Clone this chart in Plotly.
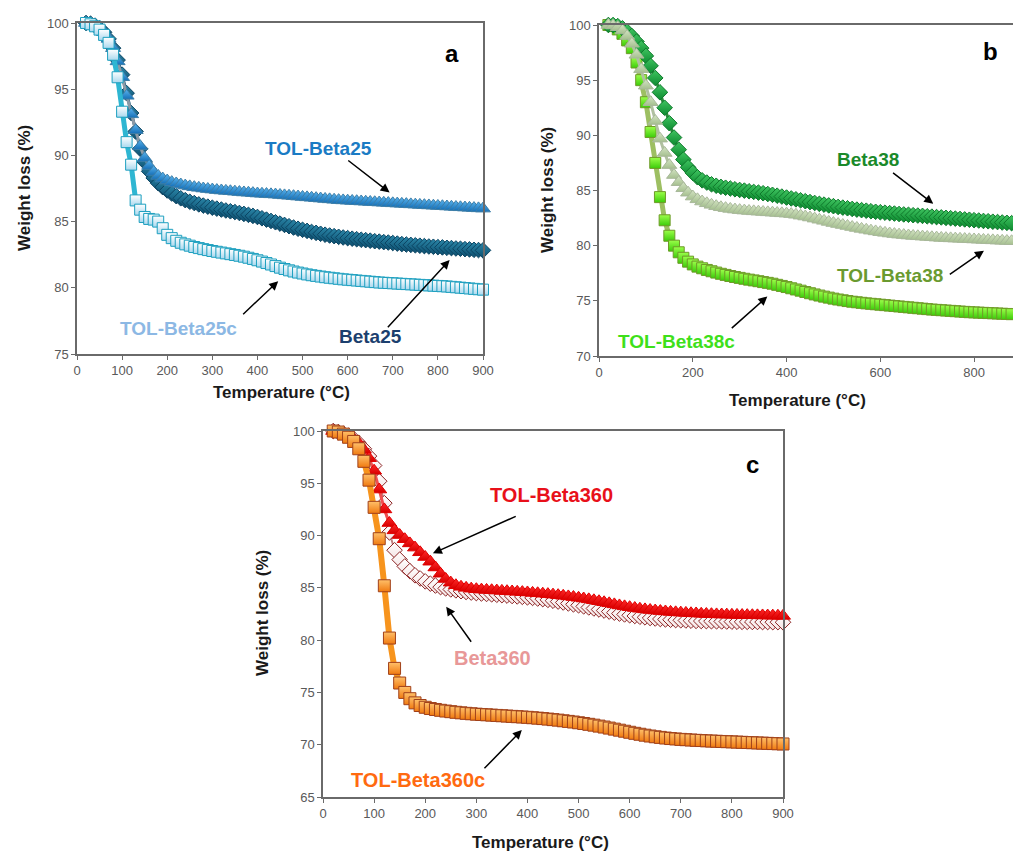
import plotly.graph_objects as go

# ---------------- data ----------------
temperature = list(range(20, 901, 10))

tol_beta25 = [100.0, 99.95, 99.8, 99.6, 99.3, 98.8, 98.1, 97.1, 95.9, 94.5,
              93.1, 91.9, 90.7, 89.8, 89.2, 88.75, 88.45, 88.25, 88.1, 87.98,
              87.88, 87.8, 87.72, 87.66, 87.6, 87.55, 87.5, 87.46, 87.42, 87.38,
              87.35, 87.32, 87.29, 87.26, 87.23, 87.2, 87.18, 87.15, 87.12, 87.1,
              87.08, 87.06, 87.04, 87.01, 86.98, 86.95, 86.92, 86.89, 86.86, 86.83,
              86.8, 86.77, 86.74, 86.71, 86.68, 86.65, 86.62, 86.6, 86.58, 86.56,
              86.54, 86.52, 86.5, 86.48, 86.46, 86.44, 86.42, 86.4, 86.38, 86.36,
              86.34, 86.32, 86.3, 86.28, 86.26, 86.24, 86.22, 86.2, 86.18, 86.16,
              86.14, 86.12, 86.1, 86.08, 86.06, 86.04, 86.02, 86.0, 85.98]

beta25 = [100.0, 99.95, 99.8, 99.6, 99.3, 98.8, 98.1, 97.2, 96.1, 94.7,
          93.2, 91.8, 90.5, 89.5, 88.8, 88.3, 87.9, 87.6, 87.35, 87.12,
          86.92, 86.76, 86.62, 86.5, 86.4, 86.3, 86.21, 86.13, 86.05, 85.98,
          85.91, 85.84, 85.78, 85.72, 85.65, 85.58, 85.51, 85.43, 85.35, 85.25,
          85.15, 85.05, 84.95, 84.85, 84.75, 84.65, 84.55, 84.46, 84.38, 84.3,
          84.22, 84.15, 84.08, 84.01, 83.95, 83.9, 83.85, 83.8, 83.75, 83.71,
          83.67, 83.63, 83.6, 83.56, 83.52, 83.49, 83.45, 83.42, 83.38, 83.34,
          83.3, 83.27, 83.24, 83.21, 83.18, 83.15, 83.12, 83.1, 83.07, 83.05,
          83.02, 83.0, 82.97, 82.95, 82.92, 82.9, 82.87, 82.85, 82.83]

tol_beta25c = [100.0, 99.9, 99.75, 99.5, 99.1, 98.5, 97.6, 95.9, 93.3, 91.0,
               89.3, 86.6, 85.9, 85.35, 85.2, 85.15, 85.0, 84.5, 84.0, 83.75,
               83.55, 83.4, 83.28, 83.18, 83.08, 83.0, 82.92, 82.85, 82.78, 82.72,
               82.66, 82.6, 82.54, 82.48, 82.42, 82.35, 82.27, 82.18, 82.08, 81.98,
               81.87, 81.76, 81.64, 81.52, 81.42, 81.32, 81.23, 81.15, 81.08, 81.01,
               80.95, 80.9, 80.85, 80.8, 80.76, 80.72, 80.68, 80.64, 80.61, 80.58,
               80.55, 80.52, 80.49, 80.46, 80.43, 80.4, 80.38, 80.36, 80.34, 80.32,
               80.3, 80.28, 80.26, 80.24, 80.22, 80.2, 80.18, 80.16, 80.14, 80.12,
               80.1, 80.07, 80.04, 80.01, 79.98, 79.95, 79.92, 79.89, 79.86]

beta38 = [100.0, 100.0, 99.9, 99.7, 99.4, 99.0, 98.5, 97.9, 97.2, 96.3,
          95.2, 93.9, 92.5, 91.1, 89.8, 88.7, 87.8, 87.1, 86.6, 86.2,
          85.92, 85.72, 85.56, 85.43, 85.33, 85.25, 85.18, 85.11, 85.05, 84.99,
          84.93, 84.87, 84.81, 84.75, 84.68, 84.61, 84.53, 84.45, 84.36, 84.28,
          84.2, 84.11, 84.03, 83.95, 83.87, 83.79, 83.72, 83.65, 83.58, 83.51,
          83.45, 83.39, 83.33, 83.27, 83.22, 83.17, 83.12, 83.07, 83.03, 82.99,
          82.95, 82.91, 82.87, 82.83, 82.8, 82.76, 82.73, 82.7, 82.66, 82.63,
          82.59, 82.56, 82.52, 82.49, 82.45, 82.42, 82.38, 82.35, 82.31, 82.28,
          82.24, 82.21, 82.17, 82.14, 82.1, 82.07, 82.04, 82.01, 81.98]

tol_beta38 = [100.0, 99.95, 99.8, 99.5, 99.0, 98.3, 97.3, 96.0, 94.5, 93.0,
              91.3, 89.7, 88.4, 87.3, 86.4, 85.75, 85.2, 84.8, 84.45, 84.2,
              84.0, 83.84, 83.7, 83.58, 83.48, 83.4, 83.33, 83.27, 83.22, 83.18,
              83.14, 83.11, 83.08, 83.05, 83.02, 82.99, 82.96, 82.93, 82.9, 82.86,
              82.8, 82.72, 82.64, 82.55, 82.45, 82.35, 82.25, 82.15, 82.05, 81.96,
              81.87, 81.78, 81.69, 81.6, 81.52, 81.44, 81.36, 81.29, 81.22, 81.16,
              81.1, 81.05, 81.0, 80.96, 80.92, 80.88, 80.85, 80.82, 80.79, 80.76,
              80.73, 80.7, 80.68, 80.66, 80.64, 80.62, 80.6, 80.58, 80.56, 80.54,
              80.52, 80.5, 80.48, 80.46, 80.44, 80.42, 80.4, 80.38, 80.36]

tol_beta38c = [100.0, 99.9, 99.6, 99.2, 98.6, 97.9, 96.6, 95.0, 93.0, 90.3,
               87.5, 84.4, 82.3, 80.9, 80.0, 79.4, 78.9, 78.55, 78.3, 78.1,
               77.95, 77.8, 77.68, 77.56, 77.45, 77.35, 77.25, 77.16, 77.08, 77.0,
               76.92, 76.85, 76.78, 76.7, 76.63, 76.55, 76.45, 76.35, 76.25, 76.14,
               76.03, 75.92, 75.8, 75.69, 75.58, 75.48, 75.38, 75.29, 75.2, 75.12,
               75.05, 74.98, 74.92, 74.87, 74.82, 74.77, 74.73, 74.69, 74.65, 74.61,
               74.57, 74.53, 74.49, 74.45, 74.41, 74.37, 74.33, 74.29, 74.25, 74.21,
               74.18, 74.15, 74.12, 74.09, 74.06, 74.03, 74.0, 73.97, 73.95, 73.93,
               73.91, 73.89, 73.87, 73.85, 73.83, 73.81, 73.79, 73.77, 73.75]

tol_beta360 = [100.0, 99.9, 99.75, 99.55, 99.25, 98.85, 98.2, 97.4, 96.2, 94.4,
               92.5, 91.2, 90.5, 90.05, 89.65, 89.25, 88.85, 88.4, 87.95, 87.5,
               86.95, 86.35, 85.85, 85.5, 85.25, 85.1, 85.0, 84.92, 84.87, 84.83,
               84.8, 84.77, 84.74, 84.71, 84.68, 84.65, 84.62, 84.59, 84.56, 84.52,
               84.48, 84.44, 84.4, 84.35, 84.3, 84.24, 84.18, 84.12, 84.05, 83.98,
               83.9, 83.81, 83.72, 83.62, 83.52, 83.42, 83.32, 83.23, 83.15, 83.07,
               83.0, 82.94, 82.88, 82.83, 82.78, 82.74, 82.7, 82.66, 82.63, 82.6,
               82.57, 82.55, 82.52, 82.5, 82.48, 82.46, 82.45, 82.44, 82.42, 82.41,
               82.4, 82.39, 82.38, 82.37, 82.36, 82.35, 82.34, 82.33, 82.32]

beta360 = [100.0, 99.9, 99.75, 99.55, 99.25, 98.85, 98.3, 97.6, 96.7, 95.2,
           93.1, 90.3, 88.6, 87.7, 87.05, 86.6, 86.2, 85.9, 85.62, 85.4,
           85.22, 85.07, 84.95, 84.85, 84.76, 84.68, 84.61, 84.55, 84.5, 84.46,
           84.42, 84.38, 84.34, 84.3, 84.26, 84.22, 84.18, 84.14, 84.09, 84.04,
           83.98, 83.92, 83.85, 83.77, 83.69, 83.6, 83.51, 83.42, 83.33, 83.23,
           83.13, 83.03, 82.93, 82.83, 82.73, 82.63, 82.54, 82.46, 82.38, 82.31,
           82.24, 82.18, 82.12, 82.07, 82.02, 81.98, 81.95, 81.92, 81.9, 81.88,
           81.86, 81.84, 81.83, 81.82, 81.81, 81.8, 81.79, 81.78, 81.77, 81.76,
           81.75, 81.75, 81.74, 81.74, 81.73, 81.73, 81.72, 81.72, 81.71]

tol_beta360c = [100.0, 99.9, 99.7, 99.4, 99.0, 98.3, 97.1, 95.3, 92.7, 89.7,
                85.2, 80.2, 77.3, 75.9, 75.0, 74.4, 74.0, 73.75, 73.58, 73.46,
                73.37, 73.29, 73.22, 73.16, 73.1, 73.05, 73.0, 72.96, 72.92, 72.89,
                72.86, 72.83, 72.8, 72.77, 72.74, 72.71, 72.68, 72.65, 72.62, 72.58,
                72.54, 72.5, 72.45, 72.4, 72.35, 72.29, 72.23, 72.17, 72.1, 72.03,
                71.95, 71.87, 71.78, 71.69, 71.59, 71.49, 71.39, 71.29, 71.19, 71.09,
                71.0, 70.91, 70.83, 70.76, 70.7, 70.64, 70.59, 70.55, 70.51, 70.48,
                70.45, 70.42, 70.4, 70.37, 70.35, 70.33, 70.31, 70.29, 70.27, 70.25,
                70.23, 70.21, 70.19, 70.17, 70.15, 70.13, 70.11, 70.09, 70.07]

for s in (tol_beta25, beta25, tol_beta25c, beta38, tol_beta38, tol_beta38c,
          tol_beta360, beta360, tol_beta360c):
    assert len(s) == len(temperature)

# ---------------- figure ----------------
W, H = 1013, 854
fig = go.Figure()


def series(y, xa, ya, symbol, size, fill, grad, outline, line_color, line_width):
    fig.add_trace(go.Scatter(
        x=temperature, y=y, xaxis=xa, yaxis=ya, mode="lines+markers",
        cliponaxis=False, showlegend=False,
        line=dict(color=line_color, width=line_width),
        marker=dict(symbol=symbol, size=size, color=fill,
                    gradient=dict(type="vertical", color=grad),
                    line=dict(color=outline, width=1)),
    ))


# panel a
series(beta25, "x", "y", "diamond", 12, "#2a86a8", "#0d4e6e", "#0b4462", "#16577a", 3)
series(tol_beta25, "x", "y", "triangle-up", 13, "#5ab4ee", "#1670b8", "#3d7ea8", "#8c9aa6", 3)
series(tol_beta25c, "x", "y", "square", 11, "#ffffff", "#a9d8ee", "#1c9fbf", "#2eb6d2", 5)

# panel b
series(tol_beta38c, "x2", "y2", "square", 11, "#9cff4a", "#3ccc0a", "#6e9a28", "#9dbf62", 5)
series(beta38, "x2", "y2", "diamond", 12, "#3fc460", "#0d8a30", "#0f7a2c", "#2a8a3a", 3)
series(tol_beta38, "x2", "y2", "triangle-up", 13, "#d4e4c4", "#a6c090", "#a8b89a", "#b0c0a0", 3)

# panel c
series(beta360, "x3", "y3", "diamond", 12, "#ffffff", "#f4e4e4", "#8c2323", "#c08080", 2)
series(tol_beta360, "x3", "y3", "triangle-up", 13, "#ff2a2a", "#d80000", "#e00000", "#f05050", 3)
series(tol_beta360c, "x3", "y3", "square", 12, "#ffc06a", "#f07a10", "#a0401a", "#f7941d", 6)

# ---------------- axes ----------------
def px_x(a, b):
    return [a / W, min(b / W, 1.0)]


def px_y(top, bottom):
    return [1 - bottom / H, 1 - top / H]


tick_font = dict(family="Liberation Sans, Arial", size=13, color="#595959")
axis_common = dict(showline=True, linecolor="#6a6a6a", linewidth=1.5,
                   ticks="outside", ticklen=4, tickcolor="#6a6a6a",
                   showgrid=False, zeroline=False, tickfont=tick_font,
                   automargin=False)

x_ticks_a = [0, 100, 200, 300, 400, 500, 600, 700, 800, 900]
x_ticks_b = [0, 200, 400, 600, 800]
y_ticks_a = [75, 80, 85, 90, 95, 100]
y_ticks_b = [70, 75, 80, 85, 90, 95, 100]
y_ticks_c = [65, 70, 75, 80, 85, 90, 95, 100]

fig.update_layout(
    width=W, height=H,
    margin=dict(l=0, r=0, t=0, b=0, pad=0, autoexpand=False),
    paper_bgcolor="white", plot_bgcolor="white", showlegend=False,
    xaxis=dict(domain=px_x(77, 483), range=[0, 900], tickvals=x_ticks_a,
               anchor="y", mirror=True, **axis_common),
    yaxis=dict(domain=px_y(23, 354), range=[75, 100], tickvals=y_ticks_a,
               anchor="x", mirror=True, **axis_common),
    xaxis2=dict(domain=px_x(599, 1013), range=[0, 883], tickvals=x_ticks_b,
                anchor="y2", mirror=True, **axis_common),
    yaxis2=dict(domain=px_y(25, 356), range=[70, 100], tickvals=y_ticks_b,
                anchor="x2", mirror=False, **axis_common),
    xaxis3=dict(domain=px_x(323, 783), range=[0, 900], tickvals=x_ticks_a,
                anchor="y3", mirror=True, **axis_common),
    yaxis3=dict(domain=px_y(431, 797), range=[65, 100], tickvals=y_ticks_c,
                anchor="x3", mirror=True, **axis_common),
)

# ---------------- annotations ----------------
ann = []
title_font = dict(family="Liberation Sans, Arial", size=17, color="#1a1a1a")


def paper_text(text, x, y, angle=0, font=title_font):
    ann.append(dict(text=text, x=x / W, y=1 - y / H, xref="paper", yref="paper",
                    showarrow=False, textangle=angle, font=font,
                    xanchor="center", yanchor="middle"))


# axis titles
paper_text("<b>Weight loss (%)</b>", 24, 188, -90)
paper_text("<b>Temperature (°C)</b>", 281, 393)
paper_text("<b>Weight loss (%)</b>", 547, 190, -90)
paper_text("<b>Temperature (°C)</b>", 797, 401)
paper_text("<b>Weight loss (%)</b>", 262, 613, -90)
paper_text("<b>Temperature (°C)</b>", 540, 842)


def label(text, xr, yr, x, y, color, size=19):
    ann.append(dict(text="<b>%s</b>" % text, x=x, y=y, xref=xr, yref=yr,
                    showarrow=False, xanchor="center", yanchor="middle",
                    font=dict(family="Liberation Sans, Arial", size=size, color=color)))


def arrow(xr, yr, x0, y0, x1, y1):
    ann.append(dict(text="", x=x1, y=y1, ax=x0, ay=y0, xref=xr, yref=yr,
                    axref=xr, ayref=yr, showarrow=True, arrowhead=2,
                    arrowsize=1.2, arrowwidth=1.5, arrowcolor="#000000"))


# panel a
label("TOL-Beta25", "x", "y", 535, 90.5, "#1a7bc4")
arrow("x", "y", 598, 89.7, 693, 87.2)
label("Beta25", "x", "y", 651, 76.3, "#1c3f6e")
arrow("x", "y", 686, 76.9, 826, 82.1)
label("TOL-Beta25c", "x", "y", 225, 76.9, "#8cb8e4")
arrow("x", "y", 365, 77.9, 446, 80.5)
label("a", "x", "y", 832, 97.7, "#000000", 24)

# panel b
label("Beta38", "x2", "y2", 573, 87.8, "#1a8a2a")
arrow("x2", "y2", 624, 86.7, 713, 83.8)
label("TOL-Beta38", "x2", "y2", 621, 77.3, "#6a9a30")
arrow("x2", "y2", 745, 77.3, 821, 79.55)
label("TOL-Beta38c", "x2", "y2", 165, 71.3, "#3ee01a")
arrow("x2", "y2", 280, 72.4, 359, 75.4)
label("b", "x2", "y2", 834, 97.6, "#000000", 24)

# panel c
label("TOL-Beta360", "x3", "y3", 448, 93.9, "#e8101a", 20)
arrow("x3", "y3", 380, 91.9, 215, 88.3)
label("Beta360", "x3", "y3", 332, 78.3, "#e89898", 20)
arrow("x3", "y3", 292, 79.7, 241, 83.2)
label("TOL-Beta360c", "x3", "y3", 185, 66.6, "#ff6a10", 20)
arrow("x3", "y3", 313, 67.6, 389, 71.4)
label("c", "x3", "y3", 841, 96.8, "#000000", 24)

fig.update_layout(annotations=ann)
fig.write_html("out.html")
